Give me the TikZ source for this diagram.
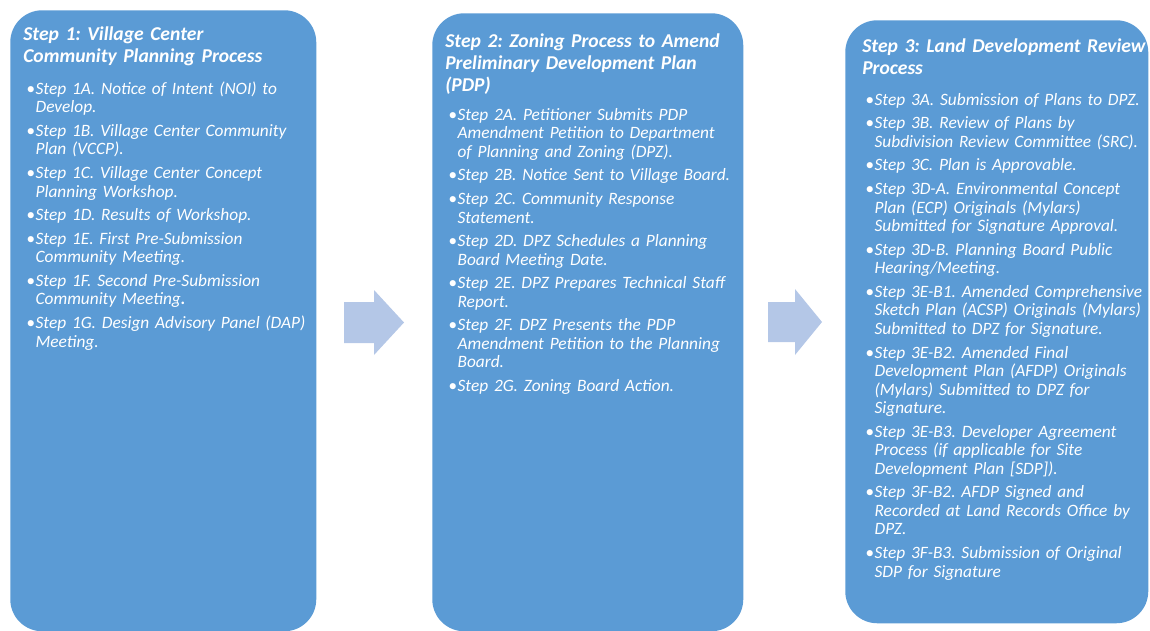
\documentclass[tikz,border=0pt]{standalone}
\usepackage{fontspec}
\setmainfont{Carlito}
\frenchspacing
\definecolor{stepblue}{RGB}{91,155,213}
\definecolor{arrowblue}{RGB}{180,199,231}
\newcommand{\stepitem}[1]{{\let\\\newline\hangindent=7pt\hangafter=1\noindent\makebox[7pt][l]{\textbullet}\strut#1\par}}

\begin{document}
\begin{tikzpicture}[x=0.75pt,y=-0.75pt,
      box/.style={fill=stepblue,rounded corners=24pt,anchor=north west,inner sep=0pt},
      ttl/.style={anchor=north west,inner sep=0pt,text width=240pt,align=left,text=white,
        font=\fontsize{14.7pt}{16.5pt}\selectfont\bfseries\itshape},
      lst/.style={anchor=north west,inner sep=0pt,text width=240pt,align=left,text=white,
        font=\fontsize{13pt}{13.9pt}\selectfont\itshape,
        execute at begin node={\setlength{\parskip}{3.8pt}}}]
      \useasboundingbox (0,0) rectangle (1150,631);
      % the three step panels
      \node[box,minimum width=229.5pt,minimum height=465.75pt] (s1) at (10,10) {};
      \node[box,minimum width=233.25pt,minimum height=463.5pt] (s2) at (432,13) {};
      \node[box,minimum width=227.25pt,minimum height=452.25pt] (s3) at (845,20) {};
      % block arrows between panels
      \fill[arrowblue] (344,302) -- (374,302) -- (374,290) -- (404,322.5) -- (374,355) -- (374,343) -- (344,343) -- cycle;
      \fill[arrowblue] (768,302) -- (795,302) -- (795,289) -- (822,322) -- (795,355) -- (795,342) -- (768,342) -- cycle;
      % step 1
      \node[ttl] (t1) at (23,25) {\strut Step 1: Village Center\\Community Planning Process};
      \node[lst] (l1) at (26,81) {%
        \stepitem{Step 1A. Notice of Intent (NOI) to\\Develop.}
        \stepitem{Step 1B. Village Center Community\\Plan (VCCP).}
        \stepitem{Step 1C. Village Center Concept\\Planning Workshop.}
        \stepitem{Step 1D. Results of Workshop.}
        \stepitem{Step 1E. First Pre-Submission\\Community Meeting.}
        \stepitem{Step 1F. Second Pre-Submission\\Community Meeting{\bfseries.}}
        \stepitem{Step 1G. Design Advisory Panel (DAP)\\Meeting.}};
      % step 2
      \node[ttl] (t2) at (445,31.5) {\strut Step 2: Zoning Process to Amend\\Preliminary Development Plan\\(PDP)};
      \node[lst] (l2) at (448,107) {%
        \stepitem{Step 2A. Petitioner Submits PDP\\Amendment Petition to Department\\of Planning and Zoning (DPZ).}
        \stepitem{Step 2B. Notice Sent to Village Board.}
        \stepitem{Step 2C. Community Response\\Statement.}
        \stepitem{Step 2D. DPZ Schedules a Planning\\Board Meeting Date.}
        \stepitem{Step 2E. DPZ Prepares Technical Staff\\Report.}
        \stepitem{Step 2F. DPZ Presents the PDP\\Amendment Petition to the Planning\\Board.}
        \stepitem{Step 2G. Zoning Board Action.}};
      % step 3
      \node[ttl] (t3) at (862,36.5) {\strut Step 3: Land Development Review\\Process};
      \node[lst] (l3) at (865,92) {%
        \stepitem{Step 3A. Submission of Plans to DPZ.}
        \stepitem{Step 3B. Review of Plans by\\Subdivision Review Committee (SRC).}
        \stepitem{Step 3C. Plan is Approvable.}
        \stepitem{Step 3D-A. Environmental Concept\\Plan (ECP) Originals (Mylars)\\Submitted for Signature Approval.}
        \stepitem{Step 3D-B. Planning Board Public\\Hearing/Meeting.}
        \stepitem{Step 3E-B1. Amended Comprehensive\\Sketch Plan (ACSP) Originals (Mylars)\\Submitted to DPZ for Signature.}
        \stepitem{Step 3E-B2. Amended Final\\Development Plan (AFDP) Originals\\(Mylars) Submitted to DPZ for\\Signature.}
        \stepitem{Step 3E-B3. Developer Agreement\\Process (if applicable for Site\\Development Plan [SDP]).}
        \stepitem{Step 3F-B2. AFDP Signed and\\Recorded at Land Records Office by\\DPZ.}
        \stepitem{Step 3F-B3. Submission of Original\\SDP for Signature}};
    \end{tikzpicture}
\end{document}
